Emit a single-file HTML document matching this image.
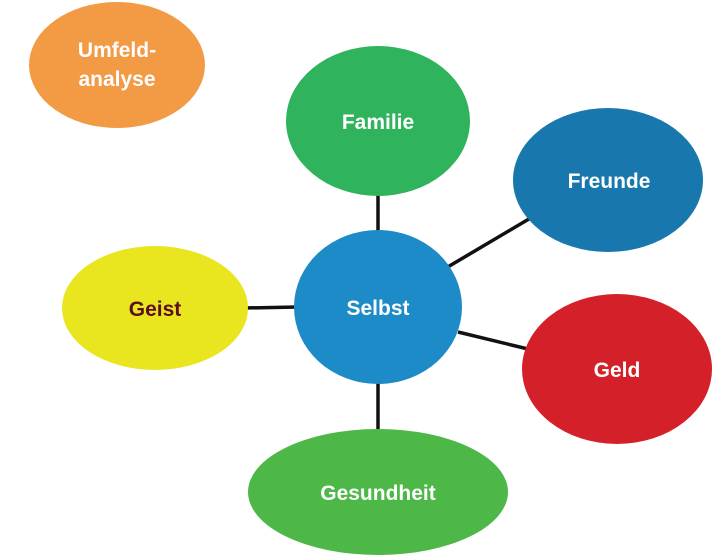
<!DOCTYPE html>
<html><head><meta charset="utf-8"><style>
html,body{margin:0;padding:0;background:#fff;}
svg{display:block;}
text{font-family:"Liberation Sans","DejaVu Sans",sans-serif;font-weight:bold;font-size:21px;text-anchor:middle;fill:#fff;}
</style></head><body>
<svg width="713" height="556" viewBox="0 0 713 556" xmlns="http://www.w3.org/2000/svg">
<g stroke="#111" stroke-width="3.5">
<line x1="378" y1="190" x2="378" y2="236"/>
<line x1="446" y1="268" x2="534" y2="216"/>
<line x1="244" y1="308" x2="298" y2="307"/>
<line x1="458" y1="332" x2="528" y2="349"/>
<line x1="378" y1="378" x2="378" y2="434"/>
</g>
<ellipse cx="117" cy="65" rx="88" ry="63" fill="#f39a45"/>
<ellipse cx="378" cy="121" rx="92" ry="75" fill="#2fb35c"/>
<ellipse cx="608" cy="180" rx="95" ry="72" fill="#1878ad"/>
<ellipse cx="378" cy="307" rx="84" ry="77" fill="#1d8bc8"/>
<ellipse cx="155" cy="308" rx="93" ry="62" fill="#e9e51f"/>
<ellipse cx="617" cy="369" rx="95" ry="75" fill="#d42028"/>
<ellipse cx="378" cy="492" rx="130" ry="63" fill="#4db848"/>
<text x="117" y="57">Umfeld-</text>
<text x="117" y="86">analyse</text>
<text x="378" y="129">Familie</text>
<text x="609" y="188">Freunde</text>
<text x="378" y="315">Selbst</text>
<text x="155" y="316" style="fill:#5a1020">Geist</text>
<text x="617" y="377">Geld</text>
<text x="378" y="500">Gesundheit</text>
</svg>
</body></html>
